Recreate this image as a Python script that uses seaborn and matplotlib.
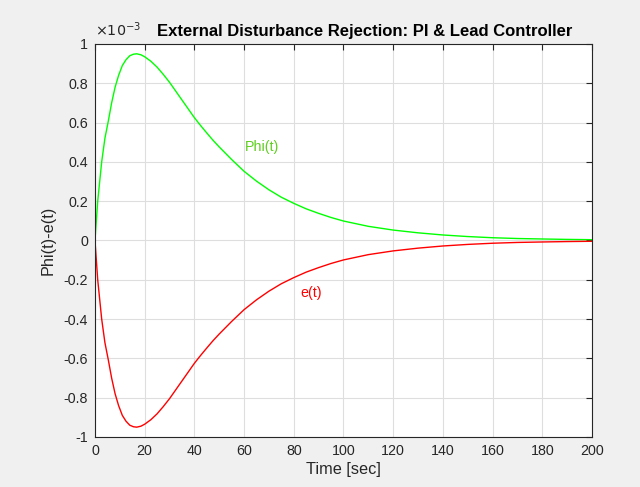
import numpy as np
import pandas as pd
import matplotlib
matplotlib.use("Agg")
import matplotlib.pyplot as plt
import seaborn as sns
from matplotlib.ticker import FormatStrFormatter

# ---- data (values in units of 1e-3) ----
t = [0, 1.1, 2.7, 4, 5.4, 6.7, 8.1, 9.5, 11, 12.5, 14, 15.5, 16.8, 18.5, 20,
     22.5, 25, 27.5, 30, 32.5, 35, 37.5, 40, 42.5, 45, 47.5, 50, 55, 60, 65,
     70, 75, 80, 85, 90, 95, 100, 110, 120, 130, 140, 150, 160, 170, 180,
     190, 200]
phi = [0, 0.2, 0.4, 0.52, 0.61, 0.70, 0.78, 0.84, 0.89, 0.92, 0.94, 0.948,
       0.95, 0.945, 0.935, 0.912, 0.882, 0.845, 0.805, 0.76, 0.715, 0.67,
       0.625, 0.585, 0.547, 0.51, 0.476, 0.412, 0.352, 0.302, 0.258, 0.22,
       0.189, 0.161, 0.138, 0.117, 0.099, 0.072, 0.053, 0.039, 0.028, 0.020,
       0.014, 0.010, 0.0076, 0.0055, 0.004]
e = [0, -0.2, -0.4, -0.52, -0.61, -0.70, -0.78, -0.84, -0.89, -0.92, -0.94,
     -0.948, -0.95, -0.945, -0.935, -0.912, -0.882, -0.845, -0.805, -0.76,
     -0.715, -0.67, -0.625, -0.585, -0.547, -0.51, -0.476, -0.412, -0.352,
     -0.302, -0.258, -0.22, -0.189, -0.161, -0.138, -0.117, -0.099, -0.072,
     -0.053, -0.039, -0.028, -0.020, -0.014, -0.010, -0.0076, -0.0055, -0.004]
xticks = [0, 20, 40, 60, 80, 100, 120, 140, 160, 180, 200]
yticks = [-1, -0.8, -0.6, -0.4, -0.2, 0, 0.2, 0.4, 0.6, 0.8, 1]

df = pd.DataFrame({"t": t + t, "v": phi + e,
                   "s": ["Phi(t)"] * len(t) + ["e(t)"] * len(t)})

sns.set_theme(style="white")
plt.rcParams["font.family"] = ["Liberation Sans", "DejaVu Sans"]
plt.rcParams["axes.unicode_minus"] = False

fig = plt.figure(figsize=(6.4, 4.87), dpi=100, facecolor="#f0f0f0")
ax = fig.add_axes([0.1484, 0.1027, 0.7766, 0.807])
ax.set_facecolor("white")

sns.lineplot(data=df, x="t", y="v", hue="s", palette={"Phi(t)": "#00ff00", "e(t)": "#ff0000"},
             linewidth=1.0, legend=False, ax=ax, sort=False)

ax.set_xlim(0, 200)
ax.set_ylim(-1, 1)
ax.set_xticks(xticks)
ax.set_yticks(yticks)
ax.yaxis.set_major_formatter(FormatStrFormatter("%g"))
ax.grid(True, color="#dedede", linewidth=0.8)
ax.tick_params(direction="in", length=4, width=0.8, colors="#262626",
               labelsize=10.3, top=True, right=True, pad=5)
for sp in ax.spines.values():
    sp.set_color("#262626")
    sp.set_linewidth(0.8)

ax.set_xlabel("Time [sec]", fontsize=11.7, color="#262626", labelpad=3)
ax.set_ylabel("Phi(t)-e(t)", fontsize=11.7, color="#262626", labelpad=6)
ax.set_title("External Disturbance Rejection: PI & Lead Controller",
             fontsize=12, fontweight="bold", color="black", x=0.542, pad=6)
ax.text(0.0, 1.012, r"$\times10^{-3}$", transform=ax.transAxes, fontsize=10.3,
        color="#262626", ha="left", va="bottom")

ax.text(60.5, 0.475, "Phi(t)", color="#5fcf1f", fontsize=10.3, va="center")
ax.text(82.5, -0.265, "e(t)", color="#ff0000", fontsize=10.3, va="center")

fig.savefig("out.png", dpi=100, facecolor=fig.get_facecolor())
